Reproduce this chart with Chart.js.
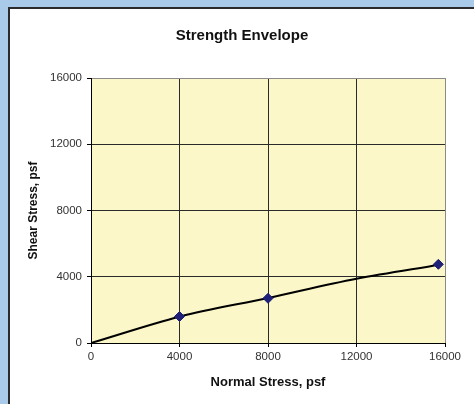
<!DOCTYPE html>
<html>
<head>
<meta charset="utf-8">
<script src="https://cdn.jsdelivr.net/npm/chart.js@4"></script>
<style>
  html, body { margin: 0; padding: 0; }
  body { width: 474px; height: 404px; background: #a9cbe9; position: relative; overflow: hidden; }
  #panel { position: absolute; left: 8px; top: 7px; right: 0; bottom: 0; background: #fff;
           border-left: 2px solid #2b2b2b; border-top: 2px solid #2b2b2b; }
  #wrap { position: absolute; left: 0; top: 0; width: 474px; height: 404px; }
</style>
</head>
<body>
<div id="panel"></div>
<div id="wrap"><canvas id="envelopeChart" width="474" height="404"></canvas></div>
<script>
// Datos
const envelopeNormal = [0, 4000, 8000, 12000, 15750];
const envelopeShear = [0, 1590, 2720, 3880, 4730];
const testNormal = [4000, 8000, 15700];
const testShear = [1600, 2700, 4750];
const axisTicks = [0, 4000, 8000, 12000, 16000];

const chartTitle = 'Strength Envelope';
const xTitle = 'Normal Stress, psf';
const yTitle = 'Shear Stress, psf';

const FONT = '"Liberation Sans", Arial, sans-serif';

// Fondo amarillo del area de trazado
const plotBg = {
  id: 'plotBg',
  beforeDraw(chart) {
    const { ctx, chartArea: a } = chart;
    ctx.save();
    ctx.fillStyle = '#fbf7c9';
    ctx.fillRect(a.left, a.top, a.right - a.left, a.bottom - a.top);
    ctx.restore();
  }
};

// Titulo centrado como en el original
const titleText = {
  id: 'titleText',
  afterDraw(chart) {
    const ctx = chart.ctx;
    ctx.save();
    ctx.font = 'bold 15px ' + FONT;
    ctx.fillStyle = '#111';
    ctx.textAlign = 'center';
    ctx.textBaseline = 'middle';
    ctx.fillText(chartTitle, 242, 36);
    ctx.restore();
  }
};

const gridColor = ctx => (ctx.tick && ctx.tick.value === 16000) ? '#8a8a8a' : '#2a2a2a';
const plain = v => String(v);

new Chart(document.getElementById('envelopeChart'), {
  type: 'scatter',
  data: {
    datasets: [
      {
        label: 'Tests',
        data: testNormal.map((x, i) => ({ x, y: testShear[i] })),
        pointStyle: 'rectRot',
        pointRadius: 5,
        backgroundColor: '#1f2078',
        borderColor: '#1f2078',
        borderWidth: 1,
        showLine: false,
        order: 0
      },
      {
        label: 'Envelope',
        data: envelopeNormal.map((x, i) => ({ x, y: envelopeShear[i] })),
        showLine: true,
        borderColor: '#000',
        borderWidth: 2,
        pointRadius: 0,
        cubicInterpolationMode: 'monotone',
        order: 1
      }
    ]
  },
  options: {
    responsive: false,
    animation: false,
    events: [],
    layout: { padding: { left: 10, right: 29, top: 78, bottom: 0 } },
    plugins: { legend: { display: false }, title: { display: false }, tooltip: { enabled: false } },
    scales: {
      x: {
        type: 'linear',
        min: 0, max: 16000,
        afterBuildTicks: s => { s.ticks = axisTicks.map(v => ({ value: v })); },
        afterFit: s => { s.height = 61; },
        grid: { color: gridColor, lineWidth: 1, drawTicks: true, tickLength: 4, tickColor: '#000' },
        border: { color: '#000', width: 1 },
        ticks: { color: '#333', font: { family: FONT, size: 11.5 }, padding: 3, maxRotation: 0, callback: plain },
        title: { display: true, text: xTitle, color: '#111',
                 font: { family: FONT, size: 13, weight: 'bold' }, padding: { top: 0, bottom: 14 } }
      },
      y: {
        type: 'linear',
        min: 0, max: 16000,
        afterBuildTicks: s => { s.ticks = axisTicks.map(v => ({ value: v })); },
        afterFit: s => { s.width = 81; },
        grid: { color: gridColor, lineWidth: 1, drawTicks: true, tickLength: 4, tickColor: '#000' },
        border: { color: '#000', width: 1 },
        ticks: { color: '#333', font: { family: FONT, size: 11.5 }, padding: 5, callback: plain },
        title: { display: true, text: yTitle, color: '#111',
                 font: { family: FONT, size: 12, weight: 'bold' }, padding: { top: 16, bottom: 0 } }
      }
    }
  },
  plugins: [plotBg, titleText]
});
</script>
</body>
</html>
